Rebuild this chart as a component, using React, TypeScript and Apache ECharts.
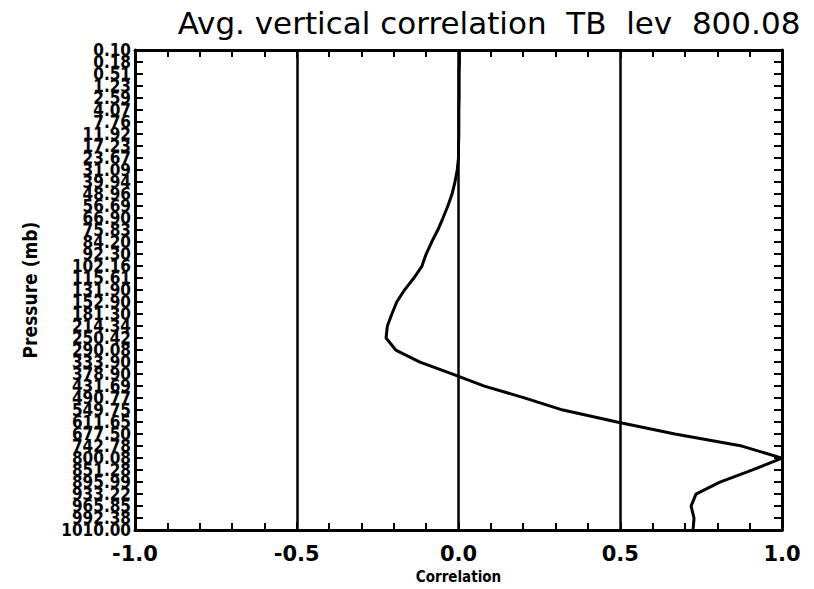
import React, { useEffect, useRef } from "react";
import * as echarts from "echarts";

const pressureLevels = [
  "0.10", "0.18", "0.51", "1.23", "2.59", "4.07", "7.76", "11.92", "17.23", "23.67",
  "31.09", "39.94", "48.96", "56.69", "66.90", "75.83", "84.20", "92.30", "102.16", "115.61",
  "131.90", "152.90", "181.30", "214.34", "250.42", "290.08", "333.90", "378.90", "431.69", "490.77",
  "549.75", "611.65", "677.50", "742.78", "800.08", "851.28", "895.99", "933.22", "965.85", "992.38",
  "1010.00",
];

const correlation = [
  0.003, 0.003, 0.002, 0.002, 0.002, 0.001, 0.001, 0.001, 0.0, 0.0,
  -0.004, -0.011, -0.02, -0.033, -0.048, -0.064, -0.083, -0.1, -0.113, -0.138,
  -0.167, -0.191, -0.206, -0.22, -0.224, -0.194, -0.119, -0.018, 0.08, 0.206,
  0.323, 0.49, 0.669, 0.876, 1.0, 0.907, 0.808, 0.734, 0.719, 0.728,
  0.725,
];

const xTicks = [-1.0, -0.5, 0.0, 0.5, 1.0];

const titleText = "Avg. vertical correlation  TB  lev  800.08";
const xName = "Correlation";
const yName = "Pressure (mb)";

const narrowFont = "'Liberation Sans Narrow', 'DejaVu Sans Condensed', 'Liberation Sans', sans-serif";

export default function App() {
  const ref = useRef<HTMLDivElement>(null);
  useEffect(() => {
    const chart = echarts.init(ref.current!, null, { renderer: "svg" });
    const commonX = {
      type: "value",
      min: xTicks[0],
      max: xTicks[xTicks.length - 1],
      interval: 0.5,
      axisLine: { show: true, onZero: false, lineStyle: { color: "#000", width: 3 } },
      axisTick: { show: true, inside: true, length: 8, lineStyle: { color: "#000", width: 2 } },
      minorTick: { show: true, splitNumber: 5, length: 7, lineStyle: { color: "#000", width: 2 } },
    };
    const commonY = {
      type: "category",
      data: pressureLevels,
      boundaryGap: false,
      inverse: true,
      axisLine: { show: true, onZero: false, lineStyle: { color: "#000", width: 3 } },
      axisTick: { show: true, inside: true, interval: 0, length: 8, lineStyle: { color: "#000", width: 2 } },
      splitLine: { show: false },
    };
    const option: any = {
      animation: false,
      backgroundColor: "#fff",
      title: {
        text: titleText,
        left: 484,
        textAlign: "center",
        top: 2,
        textStyle: {
          fontFamily: "'DejaVu Sans', sans-serif",
          fontWeight: "normal",
          fontSize: 31,
          color: "#000",
        },
      },
      grid: { left: 135, right: 32, top: 50, bottom: 55, containLabel: false },
      xAxis: [
        {
          ...commonX,
          position: "bottom",
          name: xName,
          nameLocation: "middle",
          nameGap: 33,
          nameTextStyle: { fontFamily: narrowFont, fontWeight: "bold", fontSize: 15, color: "#000" },
          axisLabel: {
            show: true,
            margin: 13,
            showMinLabel: true,
            showMaxLabel: true,
            formatter: (v: number) => v.toFixed(1),
            fontFamily: "'DejaVu Sans', sans-serif",
            fontWeight: "bold",
            fontSize: 21,
            color: "#000",
          },
          splitLine: { show: true, lineStyle: { color: "#000", width: 2.5 } },
        },
        {
          ...commonX,
          position: "top",
          axisLabel: { show: false },
          splitLine: { show: false },
        },
      ],
      yAxis: [
        {
          ...commonY,
          position: "left",
          name: yName,
          nameLocation: "middle",
          nameGap: 96,
          nameRotate: 90,
          nameTextStyle: { fontFamily: narrowFont, fontWeight: "bold", fontSize: 19, color: "#000" },
          axisLabel: {
            show: true,
            interval: 0,
            margin: 4,
            hideOverlap: false,
            fontFamily: narrowFont,
            fontWeight: "bold",
            fontSize: 17,
            color: "#000",
          },
        },
        {
          ...commonY,
          position: "right",
          axisLabel: { show: false },
        },
      ],
      series: [
        {
          type: "line",
          xAxisIndex: 0,
          yAxisIndex: 0,
          data: correlation.map((c, i) => [c, i]),
          showSymbol: false,
          symbol: "none",
          smooth: false,
          lineStyle: { color: "#000", width: 3 },
          z: 5,
        },
      ],
    };
    chart.setOption(option);
    return () => chart.dispose();
  }, []);
  return (
    <div
      ref={ref}
      style={{ position: "fixed", left: 0, top: 0, width: 814, height: 589, background: "#fff" }}
    />
  );
}
